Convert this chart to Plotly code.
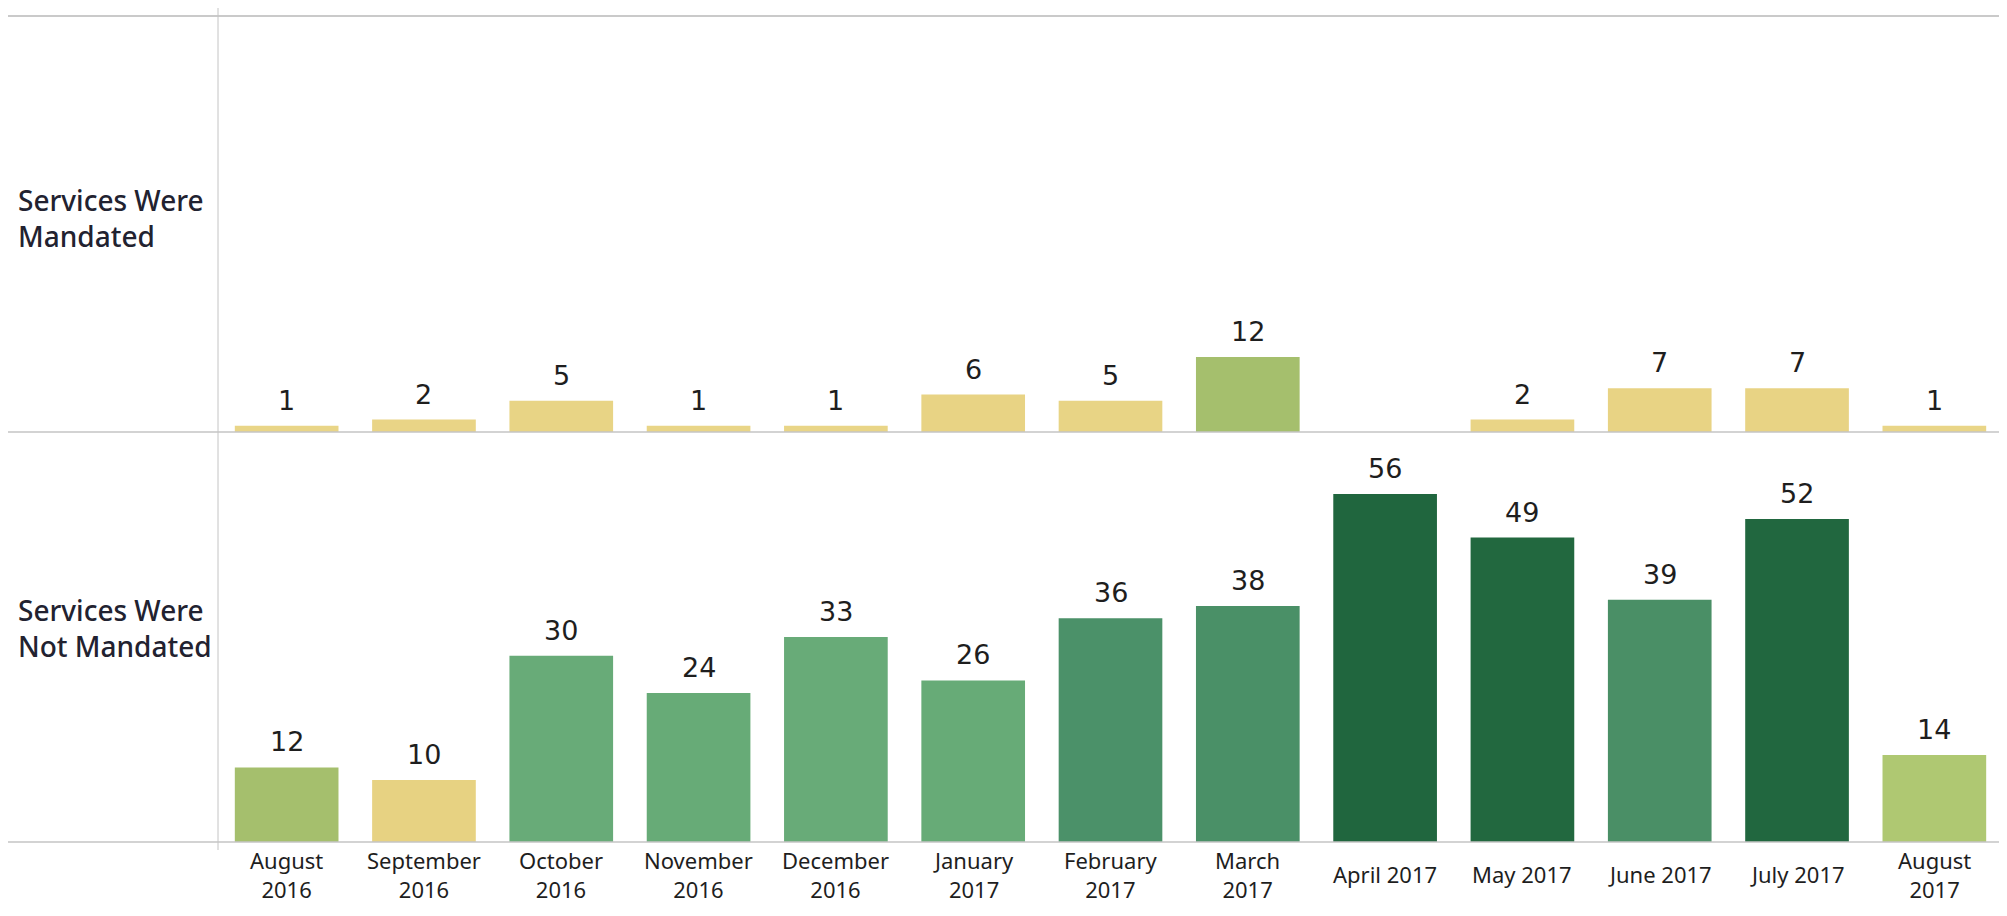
import plotly.graph_objects as go

months = ["August<br>2016", "September<br>2016", "October<br>2016", "November<br>2016",
          "December<br>2016", "January<br>2017", "February<br>2017", "March<br>2017",
          "April 2017", "May 2017", "June 2017", "July 2017", "August<br>2017"]
mandated = [1, 2, 5, 1, 1, 6, 5, 12, None, 2, 7, 7, 1]
not_mandated = [12, 10, 30, 24, 33, 26, 36, 38, 56, 49, 39, 52, 14]
row_labels = ["Services Were<br>Mandated", "Services Were<br>Not Mandated"]

cmax = 56
colorscale = [
    [0.0, "#e9d587"], [10 / cmax, "#e7d282"], [12 / cmax, "#a5bf6d"],
    [14 / cmax, "#afc872"], [24 / cmax, "#67ab77"], [33 / cmax, "#68ab78"],
    [36 / cmax, "#4b9169"], [39 / cmax, "#4a8f66"], [49 / cmax, "#22683f"],
    [1.0, "#20663e"],
]

x_idx = list(range(len(months)))

fig = go.Figure()
ann = []
for vals, xa, ya in [(mandated, "x", "y"), (not_mandated, "x2", "y2")]:
    fig.add_trace(go.Bar(
        x=x_idx, y=vals, xaxis=xa, yaxis=ya,
        marker=dict(color=[v if v is not None else 0 for v in vals],
                    colorscale=colorscale, cmin=0, cmax=cmax, line=dict(width=0)),
        showlegend=False, hoverinfo="skip",
    ))
    for i, v in enumerate(vals):
        if v is None:
            continue
        ann.append(dict(text=str(v), xref=xa, yref=ya, x=i, y=v, xanchor="center",
                        yanchor="bottom", yshift=8, showarrow=False,
                        font=dict(family="DejaVu Sans", size=27, color="#1e1e1e")))

W, H = 2007, 916
xl, xr = 210, 1995
x0, x1 = xl / W, xr / W
base_top = 424
base_bot = 834
top_px = 12
fig.update_layout(
    width=W, height=H,
    margin=dict(l=0, r=0, t=0, b=0),
    paper_bgcolor="white", plot_bgcolor="white",
    bargap=0.245,
    xaxis=dict(domain=[x0, x1], range=[-0.5, 12.5], showticklabels=False,
               showgrid=False, zeroline=False, anchor="y"),
    xaxis2=dict(domain=[x0, x1], range=[-0.5, 12.5], showticklabels=False,
                showgrid=False, zeroline=False, anchor="y2"),
    yaxis=dict(domain=[(H - base_top) / H, (H - top_px) / H], range=[0, 66],
               showticklabels=False, showgrid=False, zeroline=False),
    yaxis2=dict(domain=[(H - base_bot) / H, (H - base_top) / H], range=[0, 66],
                showticklabels=False, showgrid=False, zeroline=False),
)

line_col = "#c4c4c4"
shapes = [
    dict(type="line", xref="paper", yref="paper", x0=0, x1=1,
         y0=(H - 8) / H, y1=(H - 8) / H, line=dict(color="#b8b8b8", width=1.5)),
    dict(type="line", xref="paper", yref="paper", x0=x0, x1=x0,
         y0=(H - 842) / H, y1=1, line=dict(color=line_col, width=1)),
    dict(type="line", xref="paper", yref="paper", x0=0, x1=1,
         y0=(H - base_top) / H, y1=(H - base_top) / H, line=dict(color=line_col, width=1.5)),
    dict(type="line", xref="paper", yref="paper", x0=0, x1=1,
         y0=(H - base_bot) / H, y1=(H - base_bot) / H, line=dict(color=line_col, width=1.5)),
    dict(type="line", xref="paper", yref="paper", x0=x1, x1=x1,
         y0=(H - base_bot) / H, y1=(H - base_top) / H, line=dict(color="#dddddd", width=1)),
]
fig.update_layout(shapes=shapes)

for lbl, yc in zip(row_labels, [210, 620]):
    ann.append(dict(text=lbl, xref="paper", yref="paper", x=8 / W, y=(H - yc) / H,
                    xanchor="left", yanchor="middle", align="left", showarrow=False,
                    font=dict(family="Noto Sans", size=28, color="#222230", weight=500)))
for i, m in enumerate(months):
    ann.append(dict(text=m, xref="x2", yref="paper", x=i, y=(H - 866) / H,
                    xanchor="center", yanchor="middle", align="center", showarrow=False,
                    font=dict(family="Noto Sans", size=22, color="#1e1e1e")))
fig.update_layout(annotations=ann)

fig.write_html("out.html")
